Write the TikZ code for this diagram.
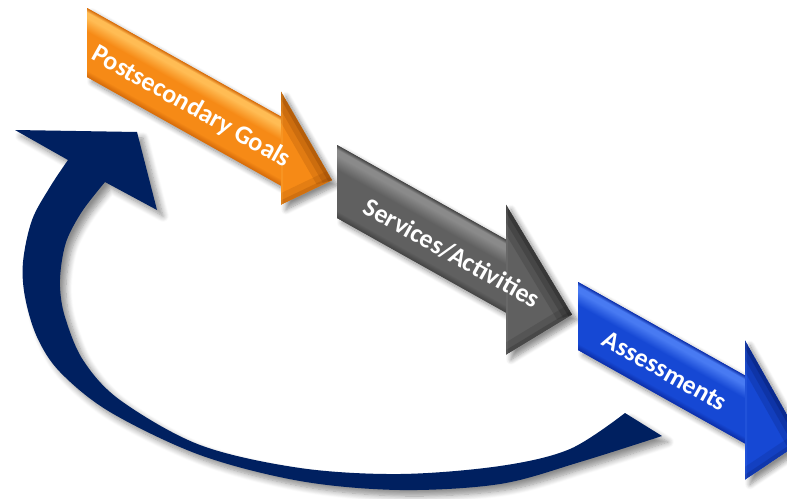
\documentclass[tikz,border=0pt]{standalone}
\usepackage{fontspec}
\setmainfont{Carlito}
\usetikzlibrary{shadows.blur}

% palette
\definecolor{navy}{RGB}{0,32,96}
\definecolor{orBase}{RGB}{246,138,22}
\definecolor{orHi}{RGB}{255,188,84}
\definecolor{orEdge}{RGB}{212,106,10}
\definecolor{orDark}{RGB}{130,60,4}
\definecolor{grBase}{RGB}{96,96,96}
\definecolor{grHi}{RGB}{138,138,138}
\definecolor{grEdge}{RGB}{68,68,68}
\definecolor{grDark}{RGB}{24,24,24}
\definecolor{blBase}{RGB}{22,72,212}
\definecolor{blHi}{RGB}{72,122,242}
\definecolor{blEdge}{RGB}{12,46,168}
\definecolor{blDark}{RGB}{4,20,90}

% cross-section of each shaft (25bp = lower edge, 75bp = upper edge)
\pgfdeclareverticalshading{orshaft}{100bp}{color(0bp)=(orEdge); color(25bp)=(orEdge);
  color(30bp)=(orBase); color(58bp)=(orBase); color(68bp)=(orHi); color(72bp)=(orHi);
  color(75bp)=(orEdge); color(100bp)=(orEdge)}
\pgfdeclareverticalshading{grshaft}{100bp}{color(0bp)=(grEdge); color(25bp)=(grEdge);
  color(30bp)=(grBase); color(58bp)=(grBase); color(68bp)=(grHi); color(72bp)=(grHi);
  color(75bp)=(grEdge); color(100bp)=(grEdge)}
\pgfdeclareverticalshading{blshaft}{100bp}{color(0bp)=(blEdge); color(25bp)=(blEdge);
  color(30bp)=(blBase); color(58bp)=(blBase); color(68bp)=(blHi); color(72bp)=(blHi);
  color(75bp)=(blEdge); color(100bp)=(blEdge)}

\tikzset{
  arrowshadow/.style={blur shadow={shadow xshift=5pt, shadow yshift=-5pt,
      shadow blur radius=5pt, shadow blur steps=8, shadow opacity=45}},
  loopshadow/.style={blur shadow={shadow xshift=6pt, shadow yshift=-6pt,
      shadow blur radius=6pt, shadow blur steps=8, shadow opacity=45}},
  lbl/.style={text=white, font=\bfseries\fontsize{26}{26}\selectfont, inner sep=0pt}
}

% block arrow in a slanted frame: x0, y0, shaft length, shaft height,
% head top, head bottom, tip u, tip v, colour prefix
\newcommand\blockarrow[9]{%
  \begin{scope}[shift={(#1,#2)}, yslant=-0.56]
    \fill[#9Base, arrowshadow] (0,0) -- (#3,0) -- (#3,#5) -- (#7,#8) -- (#3,#6)
      -- (#3,#4) -- (0,#4) -- cycle;
  \end{scope}
  \begin{scope}[transform canvas={shift={(#1,#2)}, yslant=-0.56}]
    \shade[shading=#9shaft] (0,0) rectangle (#3,#4);
    \begin{scope}
      \clip (#3,#5) -- (#7,#8) -- (#3,#6) -- cycle;
      \fill[#9Base] (#3,#5) -- (#7,#8) -- (#3,#6) -- cycle;
      \draw[#9Dark, opacity=.18, line width=40pt] (#3,#5) -- (#7,#8);
      \draw[#9Dark, opacity=.22, line width=24pt] (#3,#5) -- (#7,#8);
      \draw[#9Dark, opacity=.3, line width=10pt] (#3,#5) -- (#7,#8);
      \draw[#9Dark, opacity=.15, line width=16pt] (#7,#8) -- (#3,#6);
      \draw[#9Dark, opacity=.2, line width=6pt] (#7,#8) -- (#3,#6);
      \draw[#9Hi, opacity=.2, line width=4pt] (#3,#5) -- (#3,#6);
    \end{scope}
  \end{scope}
}

\begin{document}
\begin{tikzpicture}[x=1pt, y=-1pt]
\useasboundingbox (0,0) rectangle (787,498);
\clip (0,0) rectangle (787,498);

% return loop
\fill[navy, loopshadow]
  (15,130) -- (68,160)
  -- plot[smooth, tension=0.55] coordinates {(68,160) (50,187) (32,220) (23,262)
      (25,297) (37,337) (60,372) (110,412) (200,455) (300,481) (400,490)
      (500,484) (580,462) (662,436)}
  -- (625,413)
  -- plot[smooth, tension=0.55] coordinates {(625,413) (570,449) (500,466)
      (400,474) (300,468) (200,445) (120,400) (83,360) (65,317) (60,287)
      (62,260) (68,237) (83,210) (105,182)}
  -- (157,210) -- (137,132) -- cycle;

% the three steps
\blockarrow{87}{8}{194}{69}{-25}{88}{245}{35}{or}
\blockarrow{337}{145}{169}{73}{-35}{115}{235}{38}{gr}
\blockarrow{578}{282}{167}{68}{-35}{104}{224}{34}{bl}

\node[lbl, rotate=-29.2] (goals) at (191,107) {Postsecondary Goals};
\node[lbl, rotate=-29.2] (services) at (452,253) {Services/Activities};
\node[lbl, rotate=-29.2] (assess) at (665,371) {Assessments};
\end{tikzpicture}
\end{document}
